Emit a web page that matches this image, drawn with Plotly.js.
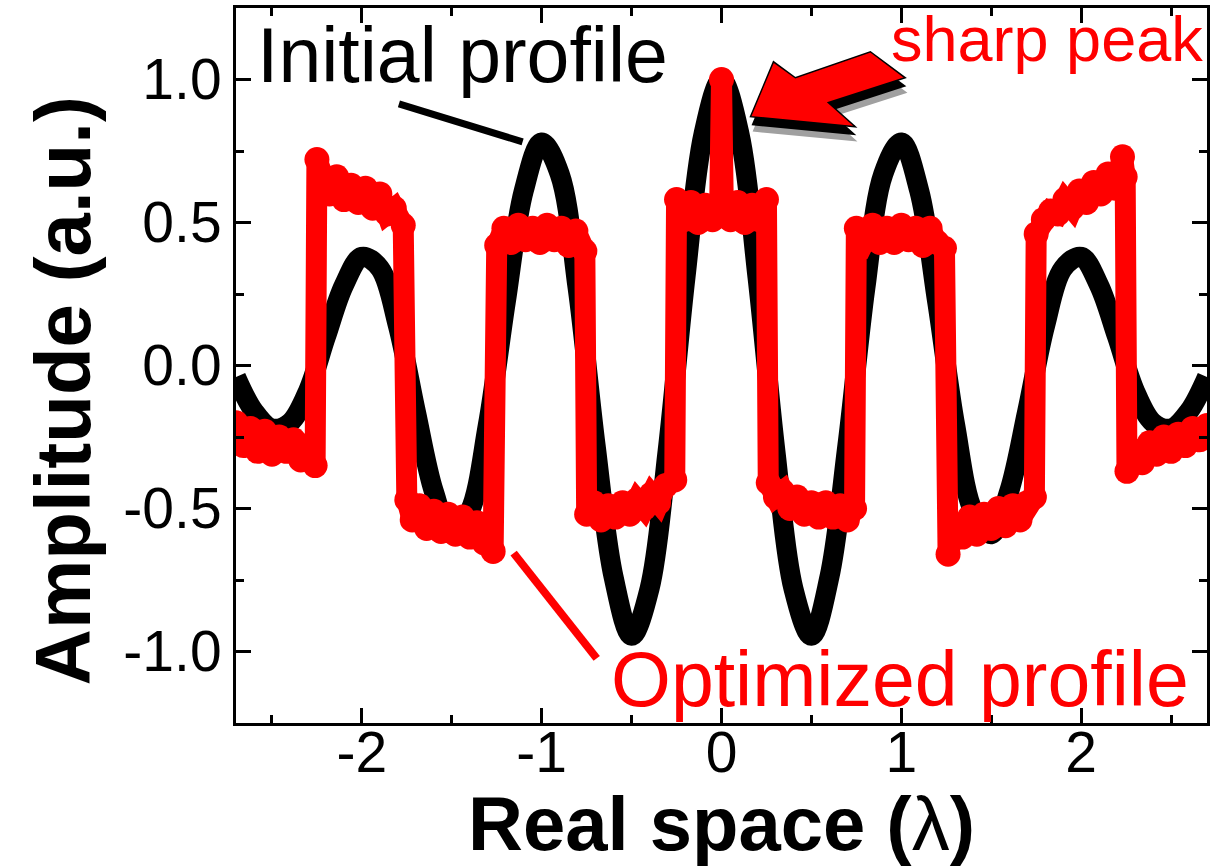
<!DOCTYPE html>
<html>
<head>
<meta charset="utf-8">
<script src="https://cdn.plot.ly/plotly-3.0.1.min.js"></script>
<style>html,body{margin:0;padding:0;background:#fff;}#chart{width:1213px;height:866px;}</style>
</head>
<body>
<div id="chart"></div>
<script>
// Initial profile (black)
var initX = [-2.7,-2.6,-2.5,-2.4,-2.3,-2.2,-2.1,-2.0,-1.9,-1.8,-1.7,-1.6,-1.5,-1.4,-1.3,-1.2,-1.1,-1.0,-0.9,-0.8,-0.7,-0.6,-0.5,-0.4,-0.3,-0.2,-0.1,0.0,0.1,0.2,0.3,0.4,0.5,0.6,0.7,0.8,0.9,1.0,1.1,1.2,1.3,1.4,1.5,1.6,1.7,1.8,1.9,2.0,2.1,2.2,2.3,2.4,2.5,2.6,2.7];
var initY = [-0.04,-0.16,-0.22,-0.20,-0.09,0.10,0.28,0.38,0.34,0.14,-0.16,-0.44,-0.59,-0.51,-0.21,0.22,0.61,0.78,0.67,0.27,-0.28,-0.74,-0.945,-0.78,-0.30,0.31,0.81,1.0,0.81,0.31,-0.30,-0.78,-0.945,-0.74,-0.28,0.27,0.67,0.78,0.61,0.22,-0.21,-0.51,-0.59,-0.44,-0.16,0.14,0.34,0.38,0.28,0.10,-0.09,-0.20,-0.22,-0.16,-0.04];

// Optimized profile (red)
var optX = [
 -2.70,-2.66,-2.62,-2.58,-2.54,-2.50,-2.46,-2.42,-2.38,-2.34,-2.30,-2.26,
 -2.25,-2.22,-2.18,-2.14,-2.10,-2.06,-2.02,-1.98,-1.94,-1.90,-1.86,-1.82,-1.77,
 -1.75,-1.72,-1.68,-1.64,-1.60,-1.56,-1.52,-1.48,-1.44,-1.40,-1.36,-1.32,-1.27,
 -1.25,-1.21,-1.17,-1.13,-1.09,-1.05,-1.01,-0.97,-0.93,-0.89,-0.85,-0.81,-0.76,
 -0.75,-0.71,-0.67,-0.63,-0.59,-0.55,-0.51,-0.47,-0.43,-0.39,-0.35,-0.31,-0.26,
 -0.25,-0.21,-0.17,-0.13,-0.09,-0.05,-0.01,0.00,0.01,0.05,0.09,0.13,0.17,0.21,0.25,
 0.26,0.30,0.34,0.38,0.42,0.46,0.50,0.54,0.58,0.62,0.66,0.70,0.74,
 0.75,0.80,0.84,0.88,0.92,0.96,1.00,1.04,1.08,1.12,1.16,1.20,1.24,
 1.26,1.30,1.34,1.38,1.42,1.46,1.50,1.54,1.58,1.62,1.66,1.70,1.74,
 1.75,1.79,1.83,1.87,1.91,1.95,1.99,2.03,2.07,2.11,2.15,2.19,2.23,2.245,
 2.255,2.30,2.34,2.38,2.42,2.46,2.50,2.54,2.58,2.62,2.66,2.70];
var optY = [
 -0.20,-0.28,-0.22,-0.30,-0.23,-0.31,-0.25,-0.30,-0.26,-0.33,-0.28,-0.35,
 0.72,0.64,0.60,0.66,0.58,0.63,0.57,0.62,0.55,0.60,0.53,0.55,0.49,
 -0.47,-0.54,-0.49,-0.57,-0.51,-0.58,-0.52,-0.59,-0.53,-0.60,-0.55,-0.62,-0.65,
 0.42,0.48,0.43,0.49,0.44,0.48,0.43,0.49,0.44,0.48,0.42,0.47,0.40,
 -0.52,-0.48,-0.54,-0.49,-0.53,-0.48,-0.52,-0.47,-0.50,-0.45,-0.48,-0.42,-0.40,
 0.58,0.51,0.57,0.50,0.56,0.51,0.56,1.00,0.56,0.51,0.57,0.50,0.56,0.51,0.58,
 -0.41,-0.46,-0.44,-0.50,-0.46,-0.52,-0.48,-0.53,-0.48,-0.53,-0.49,-0.54,-0.50,
 0.48,0.44,0.49,0.43,0.48,0.43,0.49,0.44,0.48,0.42,0.48,0.43,0.41,
 -0.66,-0.57,-0.60,-0.53,-0.59,-0.52,-0.57,-0.50,-0.56,-0.49,-0.54,-0.48,-0.46,
 0.46,0.51,0.54,0.53,0.58,0.55,0.61,0.57,0.64,0.60,0.67,0.62,0.73,0.66,
 -0.37,-0.30,-0.34,-0.27,-0.31,-0.25,-0.30,-0.24,-0.28,-0.22,-0.26,-0.21];

var xTickVals = [-2,-1,0,1,2];
var xTickText = ['-2','-1','0','1','2'];
var yTickVals = [-1,-0.5,0,0.5,1];
var yTickText = ['-1.0','-0.5','0.0','0.5','1.0'];

var FONT = 'Arial, "Liberation Sans", sans-serif';

var traces = [
  {x: initX, y: initY, mode: 'lines', line: {color: '#000000', width: 20, shape: 'spline', smoothing: 1}, hoverinfo: 'skip'},
  {x: optX, y: optY, mode: 'lines+markers', line: {color: '#ff0000', width: 21}, marker: {color: '#ff0000', size: 25}, hoverinfo: 'skip'}
];

// arrow polygon helper (decoration)
function poly(pts, dx, dy) {
  return 'M ' + pts.map(function(p){ return (p[0]+dx) + ',' + (p[1]+dy); }).join(' L ') + ' Z';
}
var arrowPts = [[0.161,0.870],[0.289,1.062],[0.411,1.006],[0.828,1.097],[1.022,1.006],[0.594,0.919],[0.744,0.835]];

var axisCommon = {
  showline: true, linewidth: 3, linecolor: '#000', mirror: 'allticks',
  ticks: 'inside', ticklen: 15, tickwidth: 3, tickcolor: '#000',
  showgrid: false, zeroline: false, fixedrange: true,
  tickfont: {family: FONT, size: 57, color: '#000'},
  tickmode: 'array'
};

var layout = {
  width: 1213, height: 866,
  margin: {l: 236, r: 6, t: 8, b: 143},
  paper_bgcolor: '#fff', plot_bgcolor: '#fff',
  showlegend: false,
  font: {family: FONT, color: '#000'},
  xaxis: Object.assign({}, axisCommon, {
    range: [-2.7, 2.7], tickvals: xTickVals, ticktext: xTickText,
    ticklabelstandoff: -22,
    minor: {ticks: 'inside', ticklen: 8, tickwidth: 3, tickcolor: '#000', dtick: 0.5, tick0: 0},
    title: {text: '<b>Real space (</b>λ<b>)</b>', font: {family: FONT, size: 76, color: '#000'}, standoff: 18}
  }),
  yaxis: Object.assign({}, axisCommon, {
    range: [-1.25, 1.25], tickvals: yTickVals, ticktext: yTickText,
    minor: {ticks: 'inside', ticklen: 8, tickwidth: 3, tickcolor: '#000', dtick: 0.25, tick0: 0}
  }),
  shapes: [
    {type: 'line', xref: 'x', yref: 'y', x0: -1.794, y0: 0.915, x1: -1.106, y1: 0.782, line: {color: '#000', width: 7}},
    {type: 'line', xref: 'x', yref: 'y', x0: -1.156, y0: -0.656, x1: -0.694, y1: -1.024, line: {color: '#ff0000', width: 8}},
    {type: 'path', xref: 'x', yref: 'y', path: poly(arrowPts, 0.012, -0.052), fillcolor: '#a0a0a0', line: {width: 0}},
    {type: 'path', xref: 'x', yref: 'y', path: poly(arrowPts, 0.006, -0.030), fillcolor: '#000000', line: {width: 0}},
    {type: 'path', xref: 'x', yref: 'y', path: poly(arrowPts, 0, 0), fillcolor: '#ff0000', line: {color: '#000', width: 1.5}}
  ],
  annotations: [
    {xref: 'paper', yref: 'paper', x: -0.178, y: 0.464, xanchor: 'center', yanchor: 'middle', showarrow: false, textangle: -90,
     text: '<b>Amplitude (a.u.)</b>', font: {family: FONT, size: 78, color: '#000'}},
    {xref: 'paper', yref: 'paper', x: 0.0196, y: 0.934, xanchor: 'left', yanchor: 'middle', showarrow: false,
     text: 'Initial profile', font: {family: FONT, size: 77, color: '#000'}},
    {xref: 'paper', yref: 'paper', x: 0.384, y: 0.062, xanchor: 'left', yanchor: 'middle', showarrow: false,
     text: 'Optimized profile', font: {family: FONT, size: 77, color: '#ff0000'}},
    {xref: 'paper', yref: 'paper', x: 0.6725, y: 0.956, xanchor: 'left', yanchor: 'middle', showarrow: false,
     text: 'sharp peak', font: {family: FONT, size: 63, color: '#ff0000'}}
  ]
};

Plotly.newPlot('chart', traces, layout, {staticPlot: true, displayModeBar: false});
</script>
</body>
</html>
